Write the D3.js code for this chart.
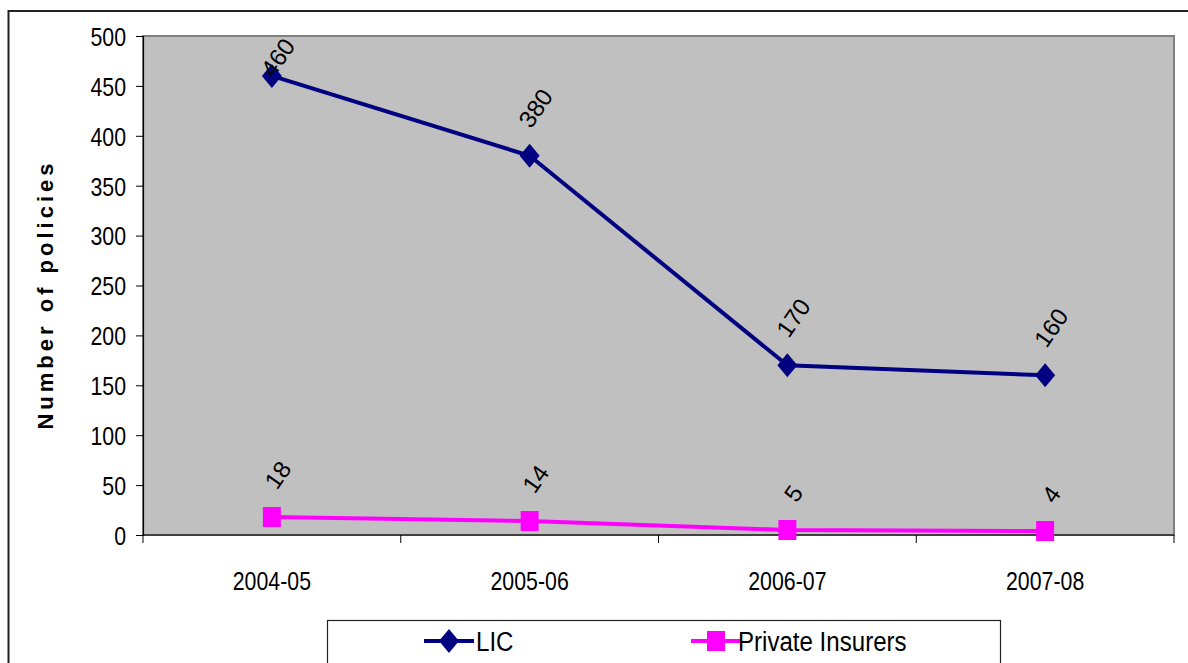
<!DOCTYPE html>
<html>
<head>
<meta charset="utf-8">
<script src="https://cdn.jsdelivr.net/npm/d3@7/dist/d3.min.js"></script>
<style>
  html, body { margin: 0; padding: 0; background: #fff; }
  svg { display: block; }
</style>
</head>
<body>
<svg id="chart" width="1188" height="663"></svg>
<script>
// Policies issued per year, by insurer
const categories = ["2004-05", "2005-06", "2006-07", "2007-08"];
const licValues = [460, 380, 170, 160];
const privateValues = [18, 14, 5, 4];
const seriesNames = ["LIC", "Private Insurers"];
const yTicks = [0, 50, 100, 150, 200, 250, 300, 350, 400, 450, 500];

const W = 1188, H = 663;
const plot = { left: 143, top: 36, right: 1174, bottom: 535 };
const font = "'Liberation Sans', Arial, sans-serif";
const narrow = 0.82; // horizontal squeeze for condensed-looking axis labels

const svg = d3.select("#chart");

// outer chart frame
svg.append("rect")
  .attr("x", 8.5).attr("y", 11)
  .attr("width", W + 20).attr("height", H + 20)
  .attr("fill", "#fff").attr("stroke", "#222").attr("stroke-width", 2);

const x = d3.scaleBand().domain(categories).range([plot.left, plot.right]);
const y = d3.scaleLinear().domain([0, 500]).range([plot.bottom, plot.top]);

// plot area
svg.append("rect")
  .attr("x", plot.left).attr("y", plot.top)
  .attr("width", plot.right - plot.left).attr("height", plot.bottom - plot.top)
  .attr("fill", "#c0c0c0").attr("stroke", "#808080").attr("stroke-width", 2);

// y axis
const yAxis = svg.append("g")
  .attr("transform", `translate(${plot.left},0)`)
  .call(d3.axisLeft(y).tickValues(yTicks).tickSize(7).tickPadding(10));
yAxis.select(".domain").attr("stroke", "#000").attr("stroke-width", 1.2);
yAxis.selectAll(".tick line").attr("stroke", "#000");
yAxis.selectAll(".tick text")
  .attr("font-family", font).attr("font-size", 26).attr("fill", "#000")
  .attr("x", -17 / narrow)
  .attr("transform", `scale(${narrow},1)`)
  .attr("dy", "0.36em");

// x axis: ticks on band boundaries
const xAxisG = svg.append("g").attr("transform", `translate(0,${plot.bottom})`);
xAxisG.append("line")
  .attr("x1", plot.left).attr("x2", plot.right)
  .attr("stroke", "#000").attr("stroke-width", 1.2);
const boundaries = categories.map(c => x(c)).concat([x.range()[1]]);
xAxisG.selectAll("line.tk").data(boundaries).join("line")
  .attr("class", "tk")
  .attr("x1", d => d).attr("x2", d => d)
  .attr("y1", 0).attr("y2", 8)
  .attr("stroke", "#000");
xAxisG.selectAll("text").data(categories).join("text")
  .attr("transform", d => `translate(${x(d) + x.bandwidth() / 2},55) scale(${narrow},1)`)
  .attr("text-anchor", "middle")
  .attr("font-family", font).attr("font-size", 26).attr("fill", "#000")
  .text(d => d);

// y axis title
svg.append("text")
  .attr("transform", `translate(53,${(plot.top + plot.bottom) / 2 + 9}) rotate(-90)`)
  .attr("text-anchor", "middle")
  .attr("font-family", font).attr("font-size", 22).attr("font-weight", "bold")
  .attr("letter-spacing", 4)
  .attr("fill", "#000")
  .text("Number of policies");

const cx = c => x(c) + x.bandwidth() / 2;
const line = d3.line().x(d => cx(d.cat)).y(d => y(d.v));

const series = [
  { name: seriesNames[0], values: licValues, color: "#000080", marker: "diamond" },
  { name: seriesNames[1], values: privateValues, color: "#ff00ff", marker: "square" }
];

function drawMarker(g, type, color) {
  if (type === "diamond") {
    g.append("path").attr("d", "M0,-12L10,0L0,12L-10,0Z").attr("fill", color);
  } else {
    g.append("rect").attr("x", -9).attr("y", -10).attr("width", 18).attr("height", 20).attr("fill", color);
  }
}

const angle = -55;
const rad = Math.abs(angle) * Math.PI / 180;

series.forEach(s => {
  const pts = s.values.map((v, i) => ({ cat: categories[i], v }));
  svg.append("path").datum(pts)
    .attr("d", line).attr("fill", "none")
    .attr("stroke", s.color).attr("stroke-width", 4);
  pts.forEach(p => {
    const g = svg.append("g").attr("transform", `translate(${cx(p.cat)},${y(p.v)})`);
    drawMarker(g, s.marker, s.color);
  });
  // rotated value labels above each point
  pts.forEach(p => {
    const t = svg.append("text")
      .attr("font-family", font).attr("font-size", 24).attr("fill", "#000")
      .attr("text-anchor", "middle").attr("dy", "0.35em")
      .text(p.v);
    const L = t.node().getComputedTextLength();
    const h = 18;
    const halfH = (L * Math.sin(rad) + h * Math.cos(rad)) / 2;
    let cy = y(p.v) - 26 - halfH;
    if (cy - halfH < plot.top) cy = plot.top + halfH;
    t.attr("transform", `translate(${cx(p.cat) + 6},${cy}) rotate(${angle})`);
  });
});

// legend
const legend = svg.append("g");
legend.append("rect")
  .attr("x", 327.5).attr("y", 620.5).attr("width", 673).attr("height", 80)
  .attr("fill", "#fff").attr("stroke", "#222").attr("stroke-width", 1.2);
const legendItems = [
  { s: series[0], x0: 424, textX: 476 },
  { s: series[1], x0: 691, textX: 738 }
];
legendItems.forEach(it => {
  const ly = 641;
  legend.append("line")
    .attr("x1", it.x0).attr("x2", it.x0 + 50)
    .attr("y1", ly).attr("y2", ly)
    .attr("stroke", it.s.color).attr("stroke-width", 4);
  const g = legend.append("g").attr("transform", `translate(${it.x0 + 25},${ly})`);
  drawMarker(g, it.s.marker, it.s.color);
  legend.append("text")
    .attr("transform", `translate(${it.textX},${ly + 10}) scale(0.86,1)`)
    .attr("font-family", font).attr("font-size", 28).attr("fill", "#000")
    .text(it.s.name);
});
</script>
</body>
</html>
